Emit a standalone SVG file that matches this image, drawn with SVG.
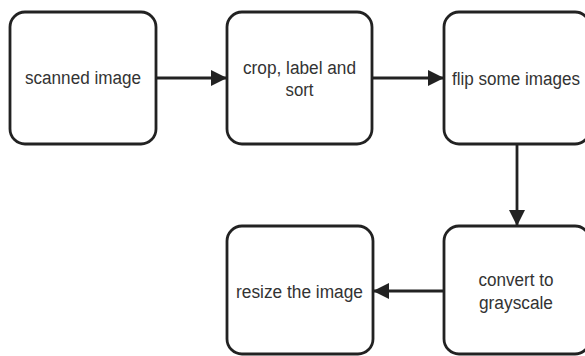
<svg xmlns="http://www.w3.org/2000/svg" width="585" height="356" viewBox="0 0 585 356">
  <defs>
    <marker id="arrow" viewBox="0 0 16 16" refX="16" refY="8" markerWidth="16" markerHeight="16" markerUnits="userSpaceOnUse" orient="auto">
      <path d="M0,0 L16,8 L0,16 Z" fill="#222"/>
    </marker>
    <style>
      .box { fill: #fff; stroke: #222; stroke-width: 2.8; }
      .label { font-family: "Liberation Sans", Arial, sans-serif; font-size: 18px; fill: #333; text-anchor: middle; }
      .edge { stroke: #222; stroke-width: 2.8; fill: none; }
    </style>
  </defs>
  <rect width="585" height="356" fill="#fff"/>

  <g id="connectors">
    <line class="edge" x1="156" y1="78" x2="227" y2="78" marker-end="url(#arrow)"/>
    <line class="edge" x1="372" y1="78" x2="444" y2="78" marker-end="url(#arrow)"/>
    <line class="edge" x1="517" y1="144" x2="517" y2="226" marker-end="url(#arrow)"/>
    <line class="edge" x1="444" y1="291" x2="373" y2="291" marker-end="url(#arrow)"/>
  </g>

  <g id="scanned-image">
    <rect class="box" x="10" y="12" width="146" height="132" rx="15"/>
    <text class="label" x="83" y="84" textLength="116" lengthAdjust="spacingAndGlyphs">scanned image</text>
  </g>

  <g id="crop-label-sort">
    <rect class="box" x="227" y="12" width="145" height="132" rx="15"/>
    <text class="label" x="299.5" y="74" textLength="113" lengthAdjust="spacingAndGlyphs">crop, label and</text>
    <text class="label" x="299.5" y="96" textLength="28" lengthAdjust="spacingAndGlyphs">sort</text>
  </g>

  <g id="flip-images">
    <rect class="box" x="444" y="12" width="146" height="132" rx="15"/>
    <text class="label" x="516" y="85" textLength="128" lengthAdjust="spacingAndGlyphs">flip some images</text>
  </g>

  <g id="convert-grayscale">
    <rect class="box" x="444" y="226" width="146" height="128" rx="15"/>
    <text class="label" x="516" y="286" textLength="75" lengthAdjust="spacingAndGlyphs">convert to</text>
    <text class="label" x="516" y="309" textLength="74" lengthAdjust="spacingAndGlyphs">grayscale</text>
  </g>

  <g id="resize-image">
    <rect class="box" x="227" y="226" width="146" height="128" rx="15"/>
    <text class="label" x="299.5" y="298" textLength="127" lengthAdjust="spacingAndGlyphs">resize the image</text>
  </g>
</svg>
